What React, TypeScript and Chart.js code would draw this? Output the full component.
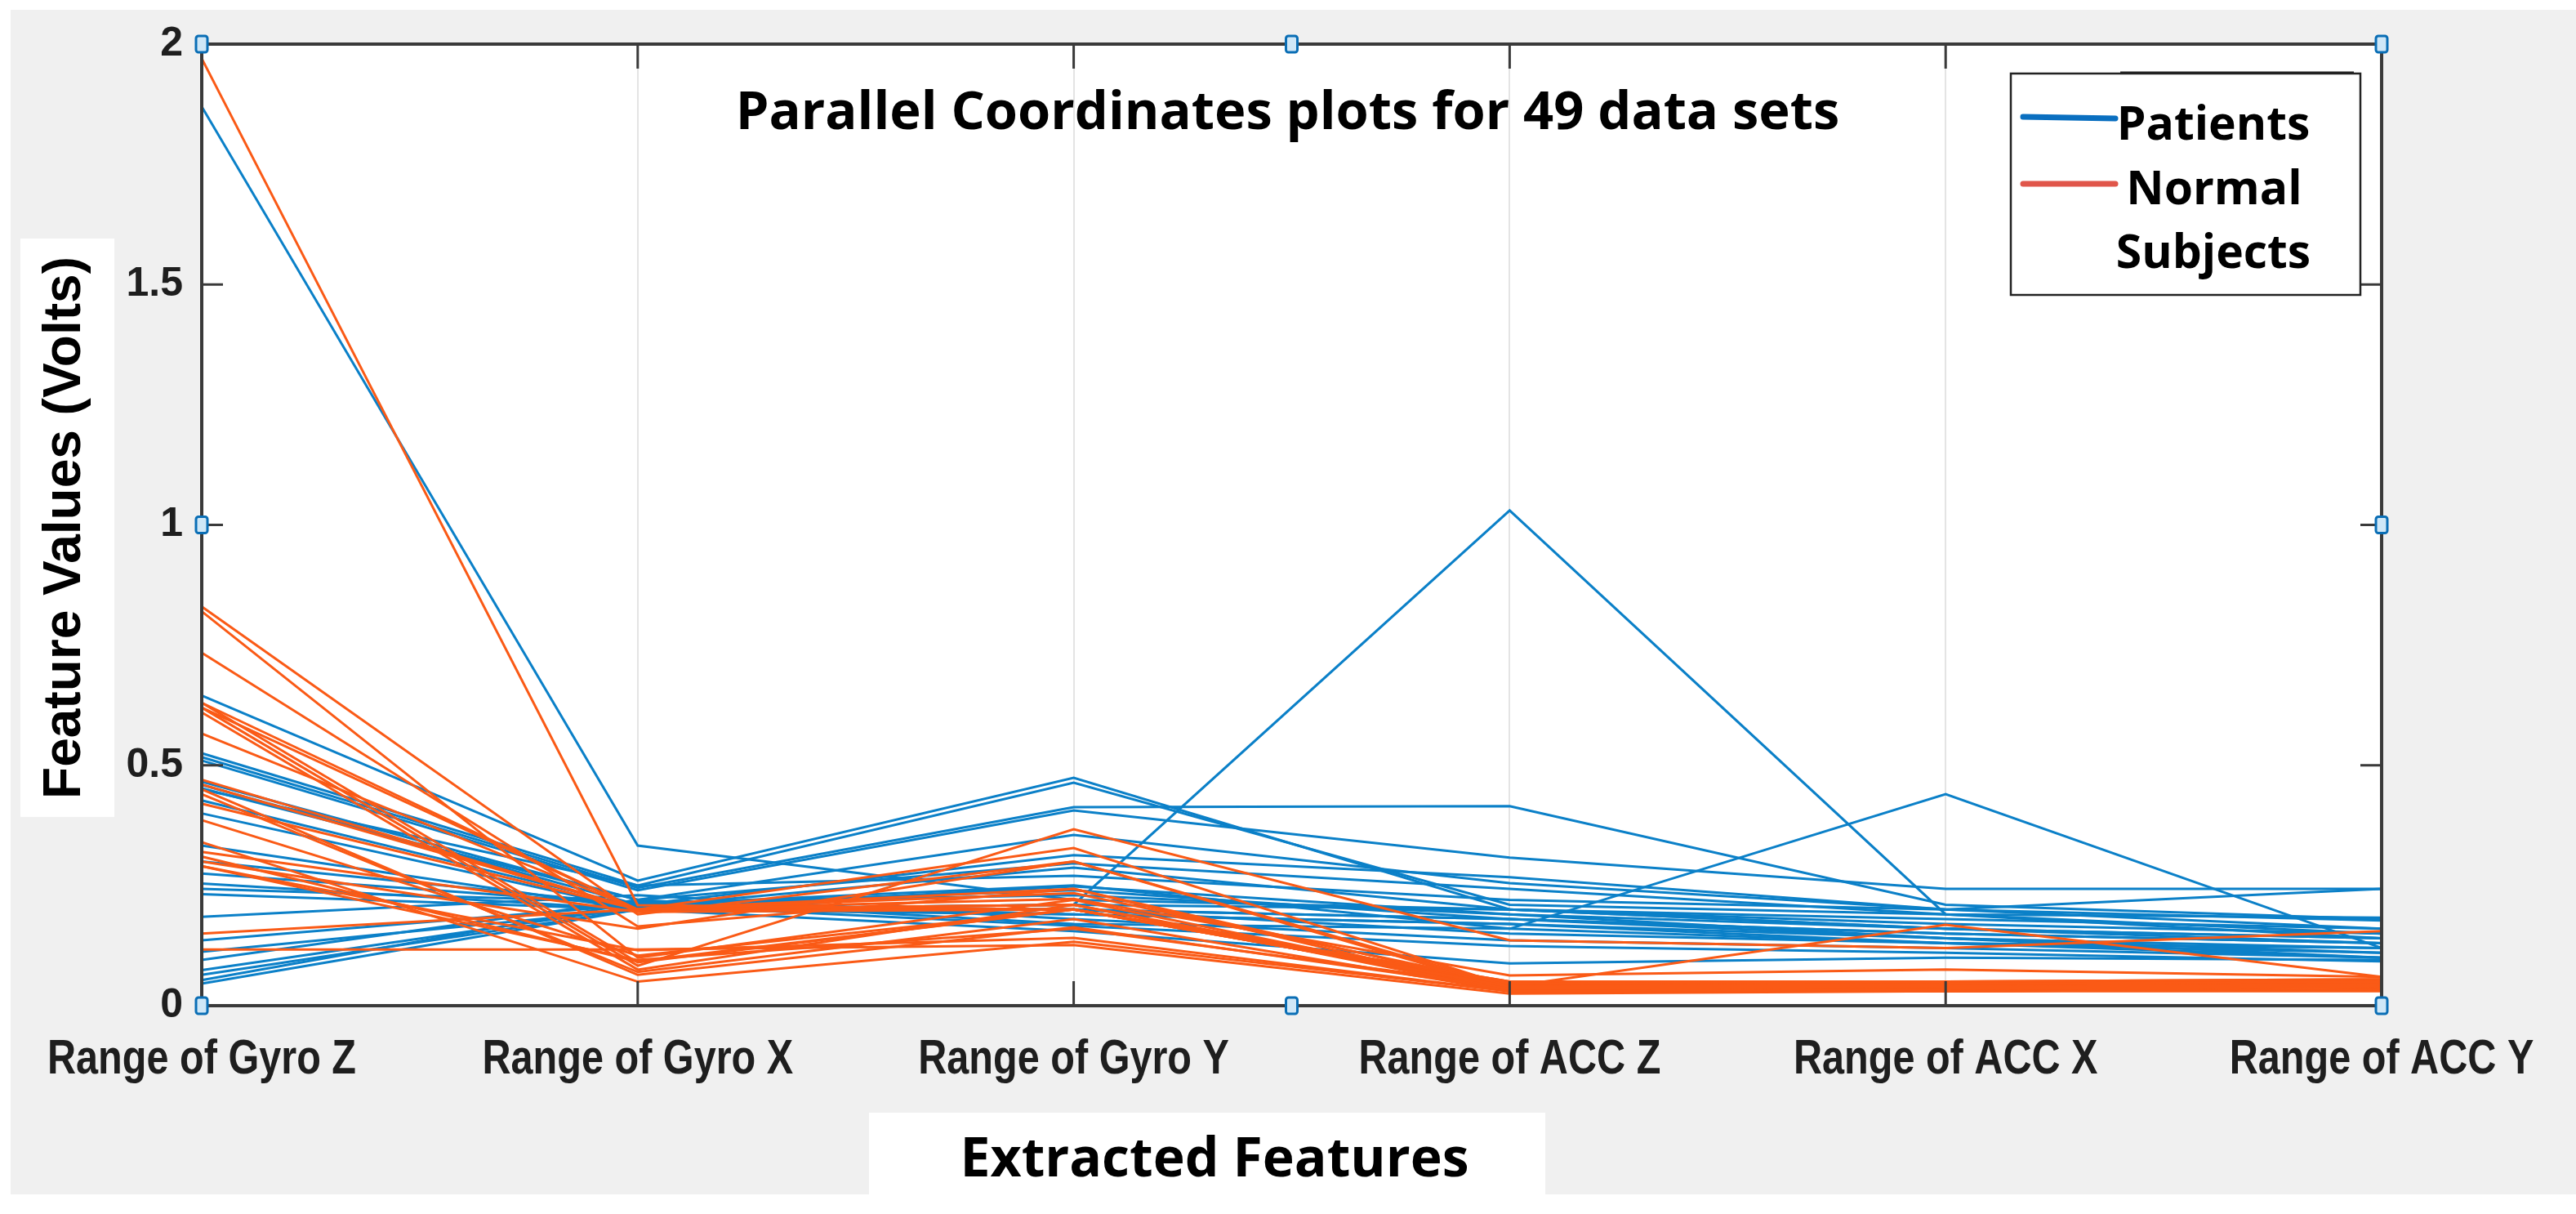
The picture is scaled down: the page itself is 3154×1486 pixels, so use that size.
import { useEffect, useRef } from "react";
import { Chart, registerables } from "chart.js";

Chart.register(...registerables);

const features = ["Range of Gyro Z", "Range of Gyro X", "Range of Gyro Y", "Range of ACC Z", "Range of ACC X", "Range of ACC Y"];
const legendLabels = ["Patients", "Normal", "Subjects"];
const chartTitle = "Parallel Coordinates plots for 49 data sets";
const yTitle = "Feature Values (Volts)";
const xTitle = "Extracted Features";
const yTicks = [0, 0.5, 1, 1.5, 2];

// patients (blue), one entry per data set
const patientsGyroZ = [1.87, 0.645, 0.525, 0.517, 0.51, 0.466, 0.459, 0.452, 0.427, 0.4, 0.333, 0.275, 0.254, 0.243, 0.232, 0.185, 0.136, 0.112, 0.095, 0.074, 0.064, 0.053, 0.046, 0.45, 0.3];
const patientsGyroX = [0.333, 0.26, 0.25, 0.245, 0.24, 0.22, 0.21, 0.22, 0.205, 0.2, 0.2, 0.21, 0.2, 0.215, 0.2, 0.23, 0.21, 0.2, 0.22, 0.205, 0.2, 0.215, 0.2, 0.25, 0.21];
const patientsGyroY = [0.22, 0.474, 0.464, 0.413, 0.406, 0.355, 0.313, 0.296, 0.287, 0.248, 0.21, 0.25, 0.2, 0.19, 0.2, 0.18, 0.166, 0.155, 0.17, 0.2, 0.21, 0.23, 0.19, 0.27, 0.24];
const patientsAccZ = [0.2, 0.2, 0.21, 0.415, 0.308, 0.255, 0.267, 0.243, 0.2, 0.19, 1.03, 0.16, 0.18, 0.17, 0.15, 0.136, 0.124, 0.088, 0.16, 0.18, 0.2, 0.19, 0.17, 0.22, 0.18];
const patientsAccX = [0.16, 0.18, 0.19, 0.21, 0.243, 0.2, 0.2, 0.19, 0.17, 0.16, 0.19, 0.44, 0.15, 0.14, 0.13, 0.12, 0.11, 0.1, 0.13, 0.15, 0.16, 0.14, 0.13, 0.2, 0.14];
const patientsAccY = [0.14, 0.16, 0.15, 0.18, 0.243, 0.243, 0.177, 0.183, 0.15, 0.14, 0.14, 0.12, 0.13, 0.12, 0.11, 0.1, 0.092, 0.095, 0.12, 0.13, 0.13, 0.11, 0.1, 0.16, 0.1];

// normal subjects (orange)
const normalsGyroZ = [1.97, 0.83, 0.82, 0.734, 0.63, 0.62, 0.61, 0.566, 0.46, 0.45, 0.42, 0.386, 0.34, 0.32, 0.3, 0.29, 0.15, 0.117, 0.31, 0.62, 0.44, 0.63, 0.29, 0.47];
const normalsGyroX = [0.209, 0.19, 0.1, 0.165, 0.09, 0.083, 0.075, 0.2, 0.2, 0.064, 0.2, 0.104, 0.05, 0.195, 0.16, 0.115, 0.2, 0.117, 0.092, 0.2, 0.07, 0.2, 0.095, 0.2];
const normalsGyroY = [0.2, 0.3, 0.22, 0.243, 0.2, 0.367, 0.21, 0.234, 0.328, 0.163, 0.222, 0.2, 0.133, 0.2, 0.3, 0.141, 0.21, 0.126, 0.2, 0.243, 0.18, 0.2, 0.16, 0.21];
const normalsAccZ = [0.04, 0.04, 0.035, 0.03, 0.04, 0.136, 0.03, 0.045, 0.04, 0.035, 0.063, 0.05, 0.03, 0.04, 0.035, 0.03, 0.04, 0.025, 0.045, 0.04, 0.03, 0.05, 0.04, 0.035];
const normalsAccX = [0.04, 0.045, 0.04, 0.035, 0.04, 0.12, 0.03, 0.05, 0.168, 0.04, 0.075, 0.05, 0.03, 0.04, 0.035, 0.03, 0.045, 0.03, 0.04, 0.04, 0.035, 0.045, 0.05, 0.04];
const normalsAccY = [0.04, 0.05, 0.045, 0.04, 0.05, 0.155, 0.035, 0.055, 0.06, 0.045, 0.06, 0.05, 0.03, 0.04, 0.04, 0.035, 0.05, 0.035, 0.045, 0.05, 0.04, 0.05, 0.055, 0.04];

const BLUE = "#0b80c8";
const ORANGE = "#fa5a16";
const AXIS = "#3a3a3a";

const toRows = (cols: number[][]) => cols[0].map((_, i) => cols.map((c) => c[i]));

const figurePlugin = {
  id: "figure",
  beforeDraw(chart: Chart) {
    const { ctx, chartArea: a, width, height } = chart;
    ctx.save();
    ctx.fillStyle = "#ffffff";
    ctx.fillRect(0, 0, width, height);
    ctx.fillStyle = "#f0f0f0";
    ctx.fillRect(13, 12, width - 13, 1462 - 12);
    ctx.fillStyle = "#ffffff";
    ctx.fillRect(a.left, a.top, a.right - a.left, a.bottom - a.top);
    ctx.fillRect(25, 292, 115, 708);
    ctx.fillRect(1064, 1362, 828, height - 1362);
    ctx.restore();
  },
  afterDatasetsDraw(chart: Chart) {
    const { ctx, chartArea: a } = chart;
    const xs = chart.scales.x;
    const ys = chart.scales.y;
    ctx.save();

    // inward ticks
    ctx.strokeStyle = AXIS;
    ctx.lineWidth = 3;
    ctx.beginPath();
    yTicks.forEach((v) => {
      const y = ys.getPixelForValue(v);
      ctx.moveTo(a.left, y);
      ctx.lineTo(a.left + 26, y);
      ctx.moveTo(a.right, y);
      ctx.lineTo(a.right - 26, y);
    });
    features.forEach((_, i) => {
      const x = xs.getPixelForValue(i);
      ctx.moveTo(x, a.top);
      ctx.lineTo(x, a.top + 30);
      ctx.moveTo(x, a.bottom);
      ctx.lineTo(x, a.bottom - 30);
    });
    ctx.stroke();

    // box
    ctx.lineWidth = 4;
    ctx.strokeRect(a.left, a.top, a.right - a.left, a.bottom - a.top);

    // feature labels, condensed like the original
    ctx.fillStyle = "#1e1e1e";
    ctx.font = "bold 60px 'Liberation Sans', Arial, sans-serif";
    ctx.textAlign = "center";
    ctx.textBaseline = "alphabetic";
    features.forEach((f, i) => {
      ctx.save();
      ctx.translate(xs.getPixelForValue(i), a.bottom + 83);
      ctx.scale(0.81, 1);
      ctx.fillText(f, 0, 0);
      ctx.restore();
    });

    // title inside the axes
    ctx.fillStyle = "#000";
    ctx.font = "bold 65px 'Open Sans', sans-serif";
    ctx.fillText(chartTitle, (a.left + a.right) / 2 - 5, a.top + 104);

    // legend
    const lx = 2462, ly = 90, lw = 428, lh = 271;
    ctx.fillStyle = "#fff";
    ctx.fillRect(lx, ly, lw, lh);
    ctx.strokeStyle = "#222";
    ctx.lineWidth = 2.5;
    ctx.strokeRect(lx, ly, lw, lh);
    ctx.lineWidth = 3;
    ctx.beginPath();
    ctx.moveTo(lx + 134, ly - 1);
    ctx.lineTo(lx + 420, ly - 1);
    ctx.stroke();
    ctx.lineCap = "round";
    ctx.lineWidth = 7;
    ctx.strokeStyle = "#0a6fc0";
    ctx.beginPath();
    ctx.moveTo(lx + 15, ly + 53);
    ctx.lineTo(lx + 128, ly + 55);
    ctx.stroke();
    ctx.strokeStyle = "#e0564a";
    ctx.beginPath();
    ctx.moveTo(lx + 15, ly + 135);
    ctx.lineTo(lx + 128, ly + 135);
    ctx.stroke();
    ctx.fillStyle = "#000";
    ctx.font = "bold 57px 'Open Sans', sans-serif";
    ctx.fillText(legendLabels[0], lx + 248, ly + 81);
    ctx.fillText(legendLabels[1], lx + 249, ly + 160);
    ctx.fillText(legendLabels[2], lx + 248, ly + 238);

    // axis titles
    ctx.font = "bold 66px 'Open Sans', sans-serif";
    ctx.fillText(xTitle, 1487, 1440);
    ctx.save();
    ctx.translate(98, 646);
    ctx.rotate(-Math.PI / 2);
    ctx.font = "bold 64px 'Liberation Sans', Arial, sans-serif";
    ctx.fillText(yTitle, 0, 0);
    ctx.restore();

    // selection handles
    const midX = (a.left + a.right) / 2;
    const handles = [
      [a.left, ys.getPixelForValue(2)], [a.left, ys.getPixelForValue(1)], [a.left, ys.getPixelForValue(0)],
      [a.right, ys.getPixelForValue(2)], [a.right, ys.getPixelForValue(1)], [a.right, ys.getPixelForValue(0)],
      [midX, a.top], [midX, a.bottom],
    ];
    ctx.lineCap = "butt";
    ctx.lineWidth = 3;
    handles.forEach(([hx, hy]) => {
      ctx.fillStyle = "#cfe7f7";
      ctx.strokeStyle = "#0a6eb5";
      ctx.beginPath();
      ctx.roundRect(hx - 7, hy - 10, 14, 20, 3);
      ctx.fill();
      ctx.stroke();
    });
    ctx.restore();
  },
};

export default function App() {
  const canvasRef = useRef<HTMLCanvasElement>(null);
  const chartRef = useRef<Chart | null>(null);

  useEffect(() => {
    if (!canvasRef.current) return;
    chartRef.current?.destroy();

    const normals = toRows([normalsGyroZ, normalsGyroX, normalsGyroY, normalsAccZ, normalsAccX, normalsAccY]);
    const patients = toRows([patientsGyroZ, patientsGyroX, patientsGyroY, patientsAccZ, patientsAccX, patientsAccY]);

    // normals first so they are drawn on top
    const datasets = [
      ...normals.map((d, i) => ({ label: `Normal ${i + 1}`, data: d, borderColor: ORANGE, borderWidth: 3, pointRadius: 0, tension: 0, fill: false })),
      ...patients.map((d, i) => ({ label: `Patient ${i + 1}`, data: d, borderColor: BLUE, borderWidth: 3, pointRadius: 0, tension: 0, fill: false })),
    ];

    chartRef.current = new Chart(canvasRef.current, {
      type: "line",
      data: { labels: features, datasets },
      plugins: [figurePlugin],
      options: {
        animation: false,
        responsive: true,
        maintainAspectRatio: false,
        layout: { padding: { left: 0, top: 54, right: 238, bottom: 0 } },
        plugins: { legend: { display: false }, tooltip: { enabled: false }, title: { display: false } },
        scales: {
          x: {
            type: "category",
            offset: false,
            border: { display: false },
            grid: { color: "#e4e4e4", lineWidth: 2, drawTicks: false },
            ticks: { display: false, autoSkip: false, maxRotation: 0 },
            afterFit: (s: any) => { s.height = 255; },
          },
          y: {
            min: 0,
            max: 2,
            border: { display: false },
            grid: { display: false, drawTicks: false },
            ticks: {
              stepSize: 0.5,
              padding: 23,
              color: "#1e1e1e",
              font: { family: "'Liberation Sans', Arial, sans-serif", size: 50, weight: "bold" },
              callback: (v: any) => String(v),
            },
            afterFit: (s: any) => { s.width = 247; },
          },
        },
      },
    });

    return () => { chartRef.current?.destroy(); };
  }, []);

  return (
    <div style={{ position: "absolute", left: 0, top: 0, width: "3154px", height: "1486px" }}>
      <canvas ref={canvasRef} />
    </div>
  );
}
